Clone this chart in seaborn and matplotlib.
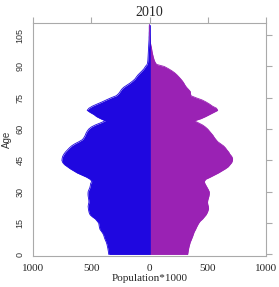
import numpy as np
import pandas as pd
import matplotlib
matplotlib.use("Agg")
import matplotlib.pyplot as plt
import seaborn as sns

ages = list(range(0, 111))
male = [350, 352, 355, 358, 362, 366, 372, 380, 387, 392,
        400, 412, 425, 430, 433, 436, 450, 465, 490, 510,
        518, 522, 525, 527, 524, 520, 521, 524, 527, 528,
        527, 520, 512, 508, 505, 495, 510, 540, 580, 620,
        650, 680, 705, 730, 745, 752, 750, 745, 735, 722,
        705, 688, 668, 640, 605, 575, 562, 552, 545, 535,
        522, 500, 465, 420, 380, 420, 455, 478, 510, 535,
        520, 490, 450, 408, 370, 330, 285, 265, 252, 240,
        222, 195, 168, 145, 125, 112, 98, 80, 62, 46,
        35, 20, 16, 14, 13, 12, 11, 10, 9, 8,
        7, 6, 5, 4, 4, 3, 3, 2, 2, 2, 1]
female = [327, 330, 333, 336, 340, 345, 350, 358, 365, 372,
          378, 385, 395, 403, 412, 422, 435, 455, 470, 485,
          495, 502, 507, 505, 500, 498, 500, 505, 510, 513,
          513, 505, 495, 485, 475, 470, 482, 520, 555, 590,
          620, 650, 675, 690, 705, 712, 713, 705, 690, 680,
          665, 652, 635, 610, 585, 570, 556, 545, 530, 515,
          500, 480, 455, 420, 385, 440, 480, 515, 550, 585,
          575, 540, 515, 485, 450, 400, 355, 352, 350, 335,
          318, 305, 295, 283, 268, 252, 235, 215, 190, 160,
          126, 60, 48, 40, 35, 30, 26, 22, 19, 17,
          12, 9, 6, 4, 3, 2, 1, 1, 1, 1, 1]
year_title = "2010"
x_ticks = [-1000, -500, 0, 500, 1000]
x_tick_labels = ["1000", "500", "0", "500", "1000"]
y_ticks = [0, 15, 30, 45, 60, 75, 90, 105]

male_color = "#1f07e0"
female_color = "#9a22b4"

df = pd.DataFrame({"age": ages,
                   "male": [-v for v in male],
                   "female": female})

sns.set_style("white")
fig = plt.figure(figsize=(2.79, 2.87), dpi=100)
ax = fig.add_axes([33 / 279, 31.5 / 287, 233 / 279, 232.5 / 287])

ax.fill_betweenx(df["age"], 0, df["male"], color=male_color, lw=0)
ax.fill_betweenx(df["age"], 0, df["female"], color=female_color, lw=0)
sns.lineplot(data=df, x="male", y="age", orient="y", color=male_color,
             lw=0.6, ax=ax, sort=False)
sns.lineplot(data=df, x="female", y="age", orient="y", color=female_color,
             lw=0.6, ax=ax, sort=False)
ax.plot([0, 0], [0, 110], color=male_color, lw=0.6)

ax.set_xlim(-1000, 1000)
ax.set_ylim(-0.5, 110.8)
ax.set_xticks(x_ticks)
ax.set_xticklabels(x_tick_labels, fontfamily="Liberation Serif", fontsize=8)
ax.set_yticks(y_ticks)
ax.set_yticklabels([str(t) for t in y_ticks], fontfamily="Liberation Sans",
                   fontsize=6.5, rotation=90, va="center", color="#333333")
ax.tick_params(axis="both", which="both", direction="out", length=4,
               width=0.8, color="#aaaaaa", top=True, right=True,
               labeltop=False, labelright=False, pad=2)
for s in ax.spines.values():
    s.set_color("#aaaaaa")
    s.set_linewidth(0.8)
ax.set_xlabel("Population*1000", fontfamily="Liberation Serif", fontsize=8,
              labelpad=1)
ax.set_ylabel("Age", fontfamily="Liberation Sans", fontsize=7, labelpad=3,
              color="#333333")
ax.set_title(year_title, fontfamily="Liberation Serif", fontsize=10, pad=5)

fig.savefig("out.png", dpi=100)
